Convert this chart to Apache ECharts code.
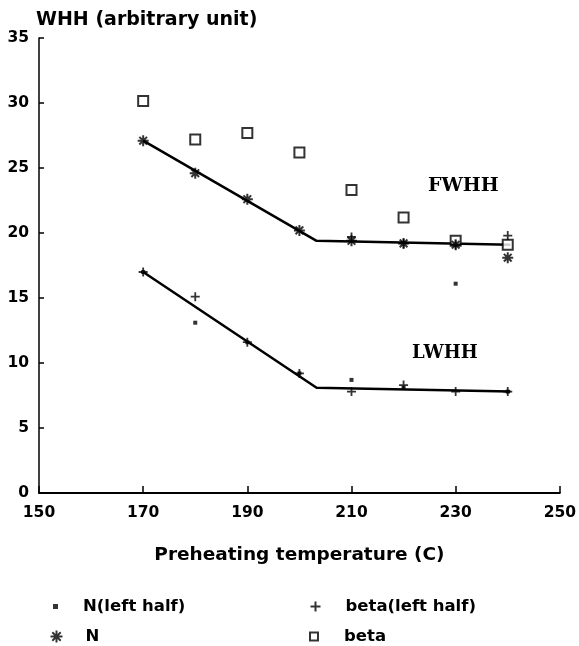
<!DOCTYPE html>
<html><head><meta charset="utf-8">
<script src="https://cdn.jsdelivr.net/npm/echarts@6/dist/echarts.min.js"></script>
<style>html,body{margin:0;padding:0;background:#fff}#c{width:579px;height:646px}</style>
</head><body><div id="c"></div>
<script>
// Data
const xTicks = [150, 170, 190, 210, 230, 250];
const yTicks = [0, 5, 10, 15, 20, 25, 30, 35];
const betaPts = [[170,30.15],[180,27.2],[190,27.7],[200,26.2],[210,23.3],[220,21.2],[230,19.4],[240,19.1]];
const nPts = [[170,27.1],[180,24.6],[190,22.6],[200,20.2],[210,19.4],[220,19.2],[230,19.1],[240,18.1]];
const betaLeftPts = [[170,17.0],[180,15.1],[190,11.6],[200,9.2],[210,7.8],[220,8.3],[230,7.8],[240,7.8],[210,19.7],[220,19.2],[230,19.1],[240,19.8]];
const nLeftPts = [[170,17.0],[180,13.1],[190,11.6],[200,9.2],[210,8.7],[220,8.1],[230,16.1],[240,7.8]];
const fwhhFit = [[170,27.1],[203.3,19.4],[240.5,19.1]];
const lwhhFit = [[170,17.0],[203.3,8.1],[240.5,7.8]];

const FONT = '"DejaVu Sans", sans-serif';
const ASTER = 'path://M5,0 L5,10 M0,5 L10,5 M1.5,1.5 L8.5,8.5 M8.5,1.5 L1.5,8.5';
const PLUS = 'path://M5,0 L5,10 M0,5 L10,5';
const legText = pad => ({color:'#000', fontFamily:FONT, fontWeight:'bold', fontSize:16.5, padding:[0,0,0,pad]});

const chart = echarts.init(document.getElementById('c'), null, {renderer:'canvas'});
chart.setOption({
  animation:false,
  backgroundColor:'#fff',
  grid:{left:39, right:16, top:38, bottom:153},
  xAxis:{type:'value', min:150, max:250, interval:20,
    axisLine:{show:true, onZero:false, lineStyle:{color:'#000', width:2}},
    axisTick:{show:true, inside:true, length:7, lineStyle:{color:'#000', width:1.5}},
    splitLine:{show:false},
    axisLabel:{color:'#000', fontFamily:FONT, fontWeight:'bold', fontSize:15.5, margin:12,
      formatter:v=>xTicks.includes(v)?String(v):''},
    name:'Preheating temperature (C)', nameLocation:'middle', nameGap:53,
    nameTextStyle:{color:'#000', fontFamily:FONT, fontWeight:'bold', fontSize:18.5}
  },
  yAxis:{type:'value', min:0, max:35, interval:5,
    axisLine:{show:true, onZero:false, lineStyle:{color:'#000', width:1.5}},
    axisTick:{show:true, inside:true, length:5, lineStyle:{color:'#000', width:1.5}},
    splitLine:{show:false},
    axisLabel:{color:'#000', fontFamily:FONT, fontWeight:'bold', fontSize:15.5, margin:10,
      formatter:v=>yTicks.includes(v)?String(v):''},
    name:'WHH (arbitrary unit)', nameLocation:'end', nameGap:8,
    nameTextStyle:{color:'#000', fontFamily:FONT, fontWeight:'bold', fontSize:19, align:'left', padding:[0,0,0,-3]}
  },
  legend:[
    {data:['N(left half)'], left:53, top:598, padding:0, itemWidth:5, itemHeight:5, textStyle:legText(20)},
    {data:['beta(left half)'], left:308, top:598, padding:0, itemWidth:10, itemHeight:10, textStyle:legText(20)},
    {data:['N'], left:48, top:628, padding:0, itemWidth:12, itemHeight:12, textStyle:legText(18)},
    {data:['beta'], left:309, top:628, padding:0, itemWidth:8, itemHeight:8, textStyle:legText(21)}
  ],
  graphic:[
    {type:'text', left:428, top:177, style:{text:'FWHH', fill:'#000', font:'bold 19px "DejaVu Serif", serif'}},
    {type:'text', left:412, top:344, style:{text:'LWHH', fill:'#000', font:'bold 18px "DejaVu Serif", serif'}}
  ],
  series:[
    {name:'fwhh', type:'line', data:fwhhFit, symbol:'none', lineStyle:{color:'#000', width:2.5}, z:2},
    {name:'lwhh', type:'line', data:lwhhFit, symbol:'none', lineStyle:{color:'#000', width:2.5}, z:2},
    {name:'beta', type:'scatter', data:betaPts, symbol:'rect', symbolSize:10,
      itemStyle:{color:'#fff', borderColor:'#000', borderWidth:2}, z:3},
    {name:'N', type:'scatter', data:nPts, symbol:ASTER, symbolSize:11,
      itemStyle:{color:'none', borderColor:'#000', borderWidth:2}, z:4},
    {name:'beta(left half)', type:'scatter', data:betaLeftPts, symbol:PLUS, symbolSize:9,
      itemStyle:{color:'none', borderColor:'#000', borderWidth:1.8}, z:4},
    {name:'N(left half)', type:'scatter', data:nLeftPts, symbol:'rect', symbolSize:4,
      itemStyle:{color:'#000'}, z:4}
  ]
});
</script></body></html>
